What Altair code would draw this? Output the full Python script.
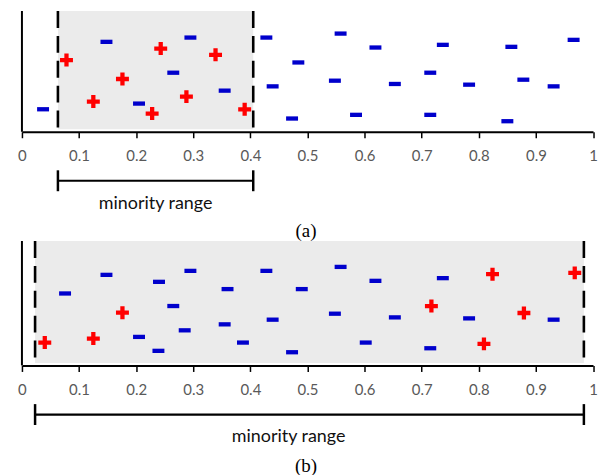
import altair as alt
import pandas as pd

# ---------------- data ----------------
tick_values = [0, 0.1, 0.2, 0.3, 0.4, 0.5, 0.6, 0.7, 0.8, 0.9, 1]

# panel (a)
a_major_x = [0.037, 0.148, 0.205, 0.265, 0.295, 0.355, 0.428, 0.484, 0.439, 0.473,
             0.558, 0.619, 0.737, 0.857, 0.966, 0.715, 0.548, 0.653, 0.783, 0.878,
             0.931, 0.585, 0.715, 0.850]
a_major_y = [22.6, 90.3, 28.3, 59.3, 94.6, 41.3, 94.6, 69.6, 45.6, 13.3,
             98.6, 84.6, 87.3, 85.3, 92.3, 59.3, 51.3, 48.0, 47.3, 52.3,
             45.6, 17.0, 17.0, 10.6]
a_minor_x = [0.078, 0.125, 0.176, 0.228, 0.243, 0.288, 0.339, 0.390]
a_minor_y = [72.0, 30.3, 53.0, 18.3, 83.6, 35.3, 77.3, 22.6]
a_range = [0.063, 0.405]

# panel (b)
b_major_x = [0.0755, 0.148, 0.205, 0.240, 0.239, 0.265, 0.285, 0.295, 0.355, 0.360,
             0.387, 0.428, 0.439, 0.473, 0.490, 0.558, 0.619, 0.548, 0.602, 0.653,
             0.737, 0.715, 0.783, 0.931]
b_major_y = [72.3, 91.0, 28.7, 84.0, 14.7, 59.7, 35.3, 95.0, 41.3, 76.7,
             23.0, 95.0, 46.0, 13.3, 76.7, 99.0, 85.0, 52.0, 23.0, 48.3,
             87.7, 17.3, 47.3, 46.0]
b_minor_x = [0.040, 0.125, 0.176, 0.824, 0.717, 0.809, 0.879, 0.968]
b_minor_y = [23.0, 27.0, 53.0, 91.7, 59.7, 21.7, 52.7, 93.0]
b_range = [0.023, 0.984]

range_label = "minority range"

# ---------------- styling ----------------
MINUS = "M-1,-0.36L1,-0.36L1,0.36L-1,0.36Z"
PLUS = ("M-0.33,-1L0.33,-1L0.33,-0.33L1,-0.33L1,0.33L0.33,0.33L0.33,1L-0.33,1"
        "L-0.33,0.33L-1,0.33L-1,-0.33L-0.33,-0.33Z")
W = 573.5


def panel(maj_x, maj_y, min_x, min_y, rng, label_x, caption, top_units, height,
          bracket_below, text_below, caption_below):
    ymin = top_units - height
    xs = alt.Scale(domain=[0, 1], nice=False, zero=False)
    ys = alt.Scale(domain=[ymin, top_units], nice=False, zero=False)
    axis = alt.Axis(values=tick_values, format="~g", offset=-(height - top_units),
                    domainColor="black", domainWidth=2, tickColor="black",
                    tickWidth=1.5, tickSize=6, labelColor="#595959",
                    labelFont="Lato", labelFontSize=15, labelPadding=11,
                    grid=False, title=None, labelFlush=False)
    X = lambda f: alt.X(f, type="quantitative", scale=xs, axis=axis, title=None)

    rng_df = pd.DataFrame({"x": [rng[0]], "x2": [rng[1]]})
    ends_df = pd.DataFrame({"x": rng})
    pts = pd.concat([
        pd.DataFrame({"x": maj_x, "y": maj_y, "k": "maj"}),
        pd.DataFrame({"x": min_x, "y": min_y, "k": "min"}),
    ])

    def py(v):  # pixel from panel top for a value in y units
        return top_units - v

    shade = alt.Chart(rng_df).mark_rect(color="#ebebeb").encode(
        x=X("x"), x2="x2", y=alt.value(0), y2=alt.value(py(2.5)))
    dashes = alt.Chart(ends_df).mark_rule(
        color="black", strokeWidth=2.6, strokeDash=[17, 8]).encode(
        x=X("x"), y=alt.value(0), y2=alt.value(py(3)))
    yline = alt.Chart(rng_df).mark_rule(color="black", strokeWidth=2).encode(
        x=alt.value(0), y=alt.value(0), y2=alt.value(py(0)))
    major = alt.Chart(pts[pts.k == "maj"]).mark_point(
        shape=MINUS, filled=True, color="#0000cc", size=144, opacity=1,
        strokeWidth=0).encode(x=X("x"), y=alt.Y("y:Q", scale=ys, axis=None))
    minor = alt.Chart(pts[pts.k == "min"]).mark_point(
        shape=PLUS, filled=True, color="#ff0000", size=169, opacity=1,
        strokeWidth=0).encode(x=X("x"), y=alt.Y("y:Q", scale=ys, axis=None))
    bracket = alt.Chart(rng_df).mark_rule(color="black", strokeWidth=2.2).encode(
        x=X("x"), x2="x2", y=alt.value(py(-bracket_below)))
    bends = alt.Chart(ends_df).mark_rule(color="black", strokeWidth=2.5).encode(
        x=X("x"), y=alt.value(py(-bracket_below) - 10.5),
        y2=alt.value(py(-bracket_below) + 10.5))
    label = alt.Chart(pd.DataFrame({"x": [label_x], "t": [range_label]})).mark_text(
        font="Lato", fontSize=18, color="#111111", baseline="middle", align="center"
    ).encode(x=X("x"), y=alt.value(py(-text_below)), text="t:N")
    cap = alt.Chart(pd.DataFrame({"t": [caption]})).mark_text(
        font="Liberation Serif", fontSize=19, color="black", baseline="middle",
        align="center").encode(x=alt.value(W / 2 - 1.5),
                               y=alt.value(py(-caption_below)), text="t:N")
    return alt.layer(shade, yline, dashes, major, minor, bracket, bends, label,
                     cap).properties(width=W, height=height)


pa = panel(a_major_x, a_major_y, a_minor_x, a_minor_y, a_range,
           (a_range[0] + a_range[1]) / 2, "(a)", 121.3, 231, 49.2, 72.4, 99.7)
pb = panel(b_major_x, b_major_y, b_minor_x, b_minor_y, b_range,
           0.467, "(b)", 125.0, 236, 49.3, 72.0, 100.5)

chart = alt.vconcat(pa, pb, spacing=0, bounds="flush").properties(
    padding={"left": 9, "top": 0, "right": 0, "bottom": 0},
    background="white",
).configure_view(stroke=None)

chart.save("out.html", embed_options={"renderer": "svg", "actions": False})
